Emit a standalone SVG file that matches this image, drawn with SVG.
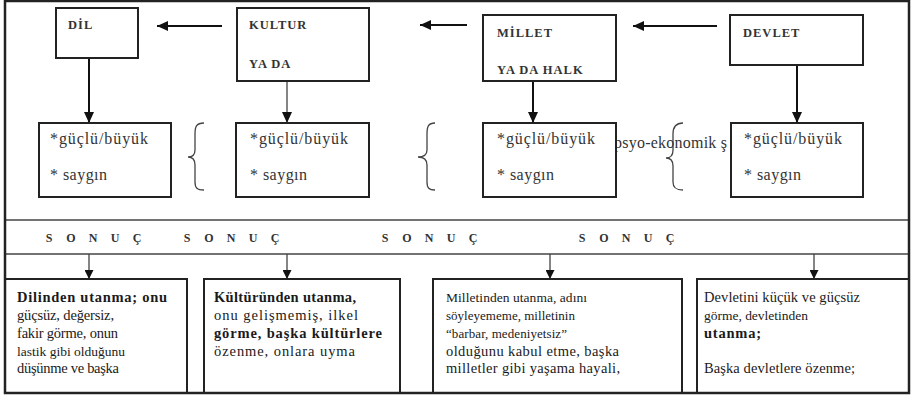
<svg xmlns="http://www.w3.org/2000/svg" width="913" height="398" viewBox="0 0 913 398">
<defs>
<style>
.box{fill:#fff;stroke:#222;stroke-width:2}
.lbl{font-family:"Liberation Serif",serif;font-weight:bold;font-size:12.5px;fill:#333;letter-spacing:1px}
.it{font-family:"Liberation Serif",serif;font-size:16px;fill:#333}
.bt{font-family:"Liberation Serif",serif;font-size:14.5px;fill:#1a1a1a}
.sm{font-size:13.5px}
.b{font-weight:bold}
.son{font-family:"Liberation Serif",serif;font-weight:bold;font-size:12px;fill:#333;text-anchor:middle}
.con{stroke:#111;stroke-width:2;fill:none}
.thin{stroke:#333;stroke-width:1.2;fill:none}
.brace{stroke:#444;stroke-width:1.3;fill:none}
</style>
<marker id="ah" markerUnits="userSpaceOnUse" markerWidth="12" markerHeight="10" refX="11" refY="5" orient="auto">
<path d="M0,0 L11,5 L0,10 Z" fill="#111"/>
</marker>
<marker id="ahs" markerUnits="userSpaceOnUse" markerWidth="10" markerHeight="9" refX="9" refY="4.5" orient="auto">
<path d="M0,0 L9,4.5 L0,9 Z" fill="#111"/>
</marker>
</defs>
<rect x="0" y="0" width="913" height="398" fill="#fff"/>

<g id="connectors">
<line class="con" x1="222" y1="26" x2="157" y2="26" marker-end="url(#ah)"/>
<line class="con" x1="467" y1="25" x2="420" y2="25" marker-end="url(#ah)"/>
<line class="con" x1="717" y1="26" x2="633" y2="26" marker-end="url(#ah)"/>
<line class="con" x1="89" y1="58" x2="89" y2="123" marker-end="url(#ah)"/>
<line class="thin" x1="287" y1="81" x2="287" y2="123" marker-end="url(#ah)"/>
<line class="con" x1="533" y1="81" x2="533" y2="123" marker-end="url(#ah)"/>
<line class="con" x1="797" y1="65" x2="797" y2="123" marker-end="url(#ah)"/>
<line class="thin" x1="89" y1="254" x2="89" y2="279" marker-end="url(#ahs)"/>
<line class="thin" x1="287" y1="254" x2="287" y2="279" marker-end="url(#ahs)"/>
<line class="thin" x1="550" y1="254" x2="550" y2="279" marker-end="url(#ahs)"/>
<line class="thin" x1="814" y1="254" x2="814" y2="279" marker-end="url(#ahs)"/>
</g>

<g id="dil"><rect class="box" x="56" y="8" width="82" height="50"/><text class="lbl" x="68" y="29">DİL</text></g>
<g id="kultur"><rect class="box" x="237" y="8" width="132" height="73" stroke-width="1.5"/><text class="lbl" x="249" y="29">KULTUR</text><text class="lbl" x="249" y="68">YA DA</text></g>
<g id="millet"><rect class="box" x="483" y="15" width="133" height="66"/><text class="lbl" x="497" y="37">MİLLET</text><text class="lbl" x="497" y="74">YA DA HALK</text></g>
<g id="devlet"><rect class="box" x="730" y="15" width="133" height="50"/><text class="lbl" x="743" y="37">DEVLET</text></g>

<g id="braces">
<path class="brace" d="M204,123 C196,123 195,127 195,134 L195,150 C195,155 193,157 188,157 C193,157 195,160 195,165 L195,182 C195,188 197,190 204,190"/>
<path class="brace" d="M435,123 C428,123 427,127 427,134 L427,150 C427,155 424,157 418,157 C424,157 427,160 427,165 L427,182 C427,188 429,190 435,190"/>
</g>

<g id="g1"><rect class="box" x="39" y="123" width="132" height="74"/><text class="it" x="50" y="144" textLength="98">*güçlü/büyük</text><text class="it" x="50" y="180" textLength="57">* saygın</text></g>
<g id="g2"><rect class="box" x="236" y="123" width="133" height="74"/><text class="it" x="250" y="144" textLength="98">*güçlü/büyük</text><text class="it" x="250" y="180" textLength="57">* saygın</text></g>
<g id="sosyo"><text class="it" x="614" y="148" textLength="113">psyo-ekonomik ş</text>
<path class="brace" d="M683,123 C676,123 673,127 673,134 L673,150 C673,155 671,158 666,158 C671,158 673,161 673,166 L673,182 C673,188 676,190 683,190"/></g>
<g id="g3"><rect class="box" x="483" y="123" width="133" height="74"/><text class="it" x="497" y="144" textLength="98">*güçlü/büyük</text><text class="it" x="497" y="180" textLength="57">* saygın</text></g>
<g id="g4"><rect class="box" x="731" y="123" width="132" height="74"/><text class="it" x="744" y="144" textLength="98">*güçlü/büyük</text><text class="it" x="744" y="180" textLength="57">* saygın</text></g>

<g id="sonuc">
<line x1="5" y1="220" x2="909" y2="220" stroke="#444" stroke-width="1.5"/>
<line x1="5" y1="254" x2="909" y2="254" stroke="#444" stroke-width="1.5"/>
<text class="son" x="49 71 93 115 137" y="242">SONUÇ</text>
<text class="son" x="187 209 231 253 275" y="242">SONUÇ</text>
<text class="son" x="385 407 429 451 473" y="242">SONUÇ</text>
<text class="son" x="582 604 626 648 670" y="242">SONUÇ</text>
</g>

<g id="r1"><rect class="box" x="5" y="279" width="182" height="114"/>
<text class="bt b" x="17" y="302" textLength="150">Dilinden utanma; onu</text>
<text class="bt" x="17" y="320" textLength="97">güçsüz, değersiz,</text>
<text class="bt" x="17" y="338" textLength="101">fakir görme, onun</text>
<text class="bt sm" x="17" y="356" textLength="108">lastik gibi olduğunu</text>
<text class="bt" x="17" y="373" textLength="102">düşünme ve başka</text>
</g>
<g id="r2"><rect class="box" x="204" y="279" width="196" height="114"/>
<text class="bt b" x="214" y="302" textLength="142">Kültüründen utanma,</text>
<text class="bt" x="214" y="320" textLength="144">onu gelişmemiş, ilkel</text>
<text class="bt b" x="214" y="338" textLength="168">görme, başka kültürlere</text>
<text class="bt" x="214" y="356" textLength="141">özenme, onlara uyma</text>
</g>
<g id="r3"><rect class="box" x="433" y="279" width="249" height="114"/>
<text class="bt sm" x="446" y="302" textLength="141">Milletinden utanma, adını</text>
<text class="bt" x="446" y="320" textLength="129" style="font-size:13px">söyleyememe, milletinin</text>
<text class="bt" x="446" y="338" textLength="121" style="font-size:13px">“barbar, medeniyetsiz”</text>
<text class="bt" x="446" y="356" textLength="173">olduğunu kabul etme, başka</text>
<text class="bt" x="446" y="373" textLength="174">milletler gibi yaşama hayali,</text>
</g>
<g id="r4"><rect class="box" x="697" y="279" width="212" height="114"/>
<text class="bt" x="704" y="302" textLength="156">Devletini küçük ve güçsüz</text>
<text class="bt sm" x="704" y="320" textLength="104">görme, devletinden</text>
<text class="bt b" x="704" y="338" textLength="57">utanma;</text>
<text class="bt" x="704" y="373" textLength="151">Başka devletlere özenme;</text>
</g>

<g id="frame"><rect x="5" y="1" width="904" height="392" fill="none" stroke="#222" stroke-width="2.5"/></g>
</svg>
